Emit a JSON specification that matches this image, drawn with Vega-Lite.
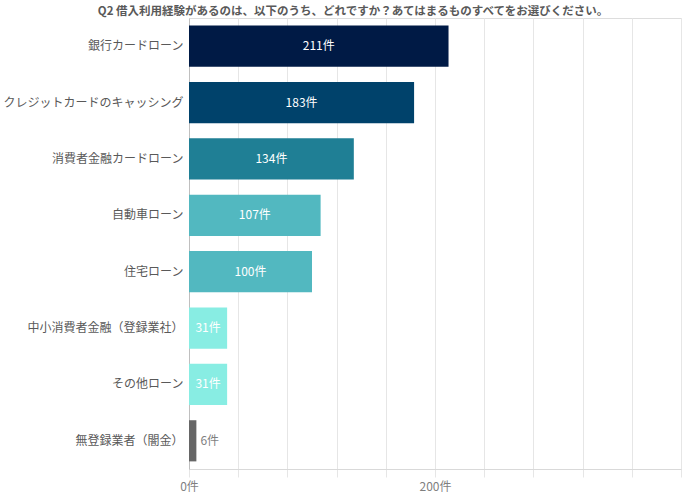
{
  "$schema": "https://vega.github.io/schema/vega-lite/v6.json",
  "autosize": {"type": "none"},
  "width": 492,
  "height": 451,
  "padding": {"left": 189, "top": 18, "right": 19, "bottom": 29},
  "background": "white",
  "title": {
    "text": "Q2 借入利用経験があるのは、以下のうち、どれですか？あてはまるものすべてをお選びください。",
    "font": "Noto Sans CJK JP",
    "fontSize": 11.5,
    "fontWeight": "bold",
    "color": "#595959",
    "anchor": "middle",
    "dx": -82,
    "offset": 1
  },
  "data": {
    "values": [
      {"label": "銀行カードローン", "value": 211},
      {"label": "クレジットカードのキャッシング", "value": 183},
      {"label": "消費者金融カードローン", "value": 134},
      {"label": "自動車ローン", "value": 107},
      {"label": "住宅ローン", "value": 100},
      {"label": "中小消費者金融（登録業社）", "value": 31},
      {"label": "その他ローン", "value": 31},
      {"label": "無登録業者（闇金）", "value": 6}
    ]
  },
  "encoding": {
    "y": {
      "field": "label",
      "type": "nominal",
      "sort": null,
      "scale": {"paddingInner": 0.27, "paddingOuter": 0.135},
      "axis": {
        "title": null,
        "labelFont": "Noto Sans CJK JP",
        "labelFontSize": 12,
        "labelColor": "#595959",
        "labelPadding": 6,
        "labelLimit": 300,
        "ticks": false,
        "domainColor": "#bfbfbf",
        "grid": false
      }
    }
  },
  "resolve": {"scale": {"x": "independent"}},
  "layer": [
    {
      "mark": {"type": "bar"},
      "encoding": {
        "x": {
          "field": "value",
          "type": "quantitative",
          "scale": {"domain": [0, 400], "nice": false},
          "axis": {
            "title": null,
            "values": [0, 40, 80, 120, 160, 200, 240, 280, 320, 360, 400],
            "labelExpr": "datum.value % 200 == 0 && datum.value < 400 ? datum.value + '件' : ''",
            "labelFlush": false,
            "labelFont": "Noto Sans CJK JP",
            "labelFontSize": 12,
            "labelColor": "#7f7f7f",
            "labelPadding": 4,
            "gridColor": "#e6e6e6",
            "tickColor": "#e6e6e6",
            "tickSize": 8,
            "domainColor": "#d9d9d9"
          }
        },
        "color": {
          "field": "label",
          "type": "nominal",
          "legend": null,
          "scale": {
            "domain": ["銀行カードローン", "クレジットカードのキャッシング", "消費者金融カードローン", "自動車ローン", "住宅ローン", "中小消費者金融（登録業社）", "その他ローン", "無登録業者（闇金）"],
            "range": ["#001a45", "#00426b", "#1f7f95", "#52b8c0", "#52b8c0", "#88ede3", "#88ede3", "#666666"]
          }
        }
      }
    },
    {
      "transform": [{"filter": "datum.value >= 20"}],
      "mark": {"type": "text", "color": "white", "font": "Noto Sans CJK JP", "fontSize": 12, "align": "center", "baseline": "middle", "text": {"expr": "datum.value + '件'"}},
      "encoding": {
        "x": {"field": "value", "type": "quantitative", "scale": {"domain": [0, 800], "nice": false}, "axis": null}
      }
    },
    {
      "transform": [{"filter": "datum.value < 20"}],
      "mark": {"type": "text", "color": "#7f7f7f", "font": "Noto Sans CJK JP", "fontSize": 12, "align": "left", "baseline": "middle", "dx": 4, "text": {"expr": "datum.value + '件'"}},
      "encoding": {
        "x": {"field": "value", "type": "quantitative", "scale": {"domain": [0, 400], "nice": false}, "axis": null}
      }
    }
  ]
}
